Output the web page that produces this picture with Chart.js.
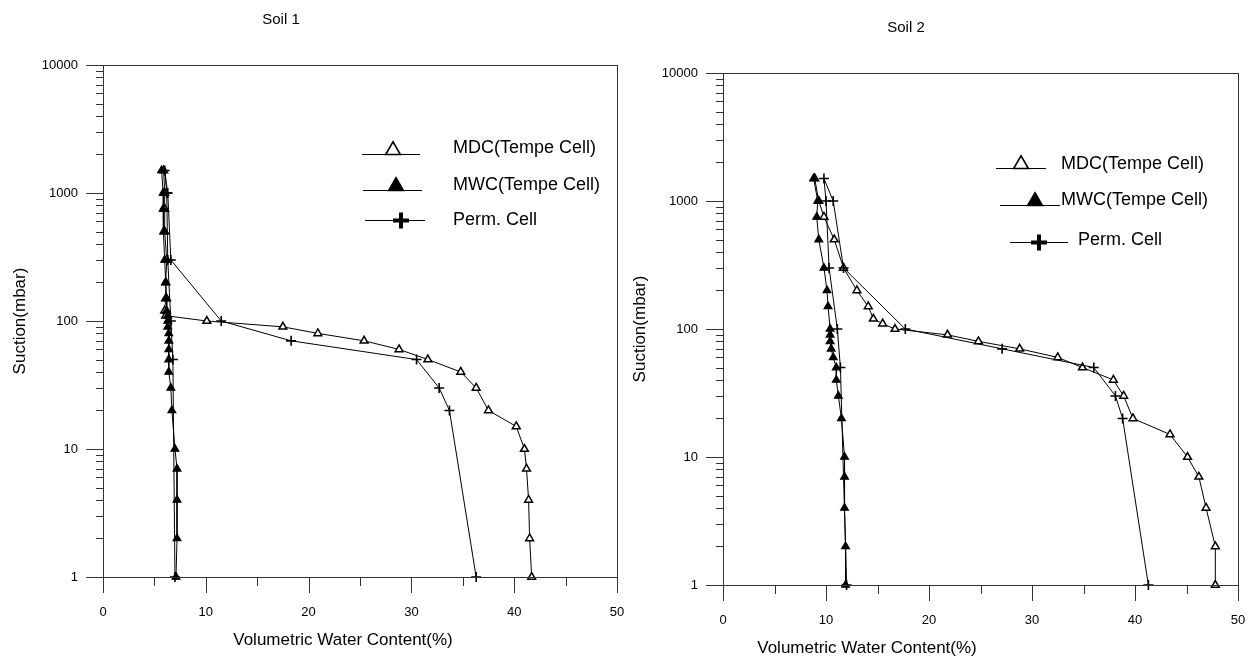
<!DOCTYPE html>
<html><head><meta charset="utf-8">
<script src="https://cdn.jsdelivr.net/npm/chart.js@4/dist/chart.umd.min.js"></script>
<style>
html,body{margin:0;padding:0;background:#fff;width:1253px;height:659px;overflow:hidden}
#c1{position:absolute;left:0;top:0}
#c2{position:absolute;left:626px;top:0}
</style></head><body>
<canvas id="c1" width="626" height="659"></canvas>
<canvas id="c2" width="627" height="659"></canvas>
<script>
// ---------- data ----------
const chartTitles = ['Soil 1', 'Soil 2'];
const seriesNames = ['MDC(Tempe Cell)', 'MWC(Tempe Cell)', 'Perm. Cell'];
const xAxisTitle = 'Volumetric Water Content(%)';
const yAxisTitle = 'Suction(mbar)';
const xTickValues = [0, 10, 20, 30, 40, 50];
const yTickValues = [1, 10, 100, 1000, 10000];

// Soil 1
const soil1MdcSuction = [1,2,4,7,10,15,20,30,40,50,60,70,80,90,100,110,120,150,200,300,500,750,1000,1500];
const soil1MdcWater   = [41.7,41.5,41.4,41.2,41.0,40.2,37.5,36.3,34.8,31.6,28.8,25.4,20.9,17.5,10.1,6.1,6.0,6.1,6.1,6.2,6.0,6.0,6.0,5.9];
const soil1MwcSuction = [1500,1000,750,500,300,200,150,120,110,100,90,80,70,60,50,40,30,20,10,7,4,2,1];
const soil1MwcWater   = [5.7,5.85,5.85,5.9,6.0,6.1,6.2,6.2,6.3,6.3,6.3,6.4,6.4,6.4,6.4,6.4,6.6,6.7,7.0,7.2,7.2,7.2,7.1];
const soil1PermSuction = [1,20,30,50,70,100,300,1000,1500,1000,300,100,50,1];
const soil1PermWater   = [36.3,33.7,32.7,30.5,18.3,11.5,6.6,6.3,6.0,6.2,6.3,6.6,6.8,7.0];

// Soil 2
const soil2MdcSuction = [1,2,4,7,10,15,20,30,40,50,60,70,80,90,100,110,120,150,200,300,500,750,1000,1500];
const soil2MdcWater   = [47.8,47.8,46.9,46.2,45.1,43.4,39.8,38.9,37.9,34.9,32.5,28.8,24.8,21.8,16.7,15.5,14.6,14.1,13.0,11.7,10.8,9.8,9.3,8.9];
const soil2MwcSuction = [1500,1000,750,500,300,200,150,100,90,80,70,60,50,40,30,20,10,7,4,2,1];
const soil2MwcWater   = [8.8,9.2,9.1,9.3,9.8,10.1,10.2,10.4,10.4,10.4,10.5,10.7,11.0,11.0,11.2,11.5,11.8,11.8,11.8,11.9,11.9];
const soil2PermSuction = [1,20,30,50,70,100,300,1000,1500,1000,300,100,50,1];
const soil2PermWater   = [41.3,38.8,38.1,36.0,27.1,17.7,11.7,10.7,9.8,10.0,10.3,11.1,11.4,12.0];

// ---------- helpers ----------
const FAM = '"Liberation Sans", Arial, sans-serif';
const pts = (xs, ys) => xs.map((x, i) => ({x: x, y: ys[i]}));
const isPow10 = v => Math.abs(Math.log10(v) - Math.round(Math.log10(v))) < 1e-9;

function tri(ctx, x, yBase, r, fill) {
  const cy = yBase - r / 2;
  ctx.beginPath();
  for (let k = 0; k < 3; k++) {
    const a = k * 2 * Math.PI / 3;
    const px = x + Math.sin(a) * r, py = cy - Math.cos(a) * r;
    if (k === 0) ctx.moveTo(px, py); else ctx.lineTo(px, py);
  }
  ctx.closePath();
  ctx.fillStyle = fill ? '#000' : '#fff';
  ctx.fill();
  ctx.lineWidth = 1.6; ctx.strokeStyle = '#000'; ctx.stroke();
}

const decor = {
  id: 'decor',
  afterDraw(chart, args, o) {
    const ctx = chart.ctx, xs = chart.scales.x, ys = chart.scales.y, a = chart.chartArea;
    ctx.save();
    ctx.strokeStyle = '#333'; ctx.lineWidth = 1;
    ctx.strokeRect(Math.round(a.left) + 0.5, Math.round(a.top) + 0.5, Math.round(a.right - a.left), Math.round(a.bottom - a.top));
    ctx.beginPath();
    for (let d = 1; d < 10000; d *= 10) {
      for (let m = 1; m < 10; m++) {
        const py = Math.round(ys.getPixelForValue(d * m)) + 0.5;
        ctx.moveTo(a.left - (m === 1 ? 17 : 7), py); ctx.lineTo(a.left, py);
      }
    }
    const pTop = Math.round(ys.getPixelForValue(10000)) + 0.5;
    ctx.moveTo(a.left - 17, pTop); ctx.lineTo(a.left, pTop);
    for (let v = 0; v <= 50; v += 5) {
      const px = Math.round(xs.getPixelForValue(v)) + 0.5;
      ctx.moveTo(px, a.bottom); ctx.lineTo(px, a.bottom + (v % 10 === 0 ? 16 : 9));
    }
    ctx.stroke();
    ctx.fillStyle = '#000'; ctx.textAlign = 'center'; ctx.textBaseline = 'middle';
    ctx.font = '15px ' + FAM;
    ctx.fillText(o.title, o.titleX, o.titleY);
    ctx.font = '17px ' + FAM;
    ctx.fillText(xAxisTitle, o.xtX, o.xtY);
    const L = o.legend;
    ctx.font = '18px ' + FAM; ctx.textAlign = 'left';
    L.forEach((r, i) => {
      ctx.beginPath(); ctx.strokeStyle = '#000'; ctx.lineWidth = 1;
      ctx.moveTo(r.x1, r.y + 0.5); ctx.lineTo(r.x2, r.y + 0.5); ctx.stroke();
      if (i === 0) tri(ctx, r.mx, r.y + 0.5, 8.5, false);
      else if (i === 1) tri(ctx, r.mx, r.y + 0.5, 8.5, true);
      else {
        ctx.fillStyle = '#000';
        ctx.fillRect(r.mx - 8, r.y - 1.5, 16, 4);
        ctx.fillRect(r.mx - 2, r.y - 7.5, 4, 16);
      }
      ctx.fillStyle = '#000';
      ctx.fillText(seriesNames[i], r.tx, r.ty);
    });
    ctx.restore();
  }
};

function makeChart(id, d, lay) {
  const ds = [
    {label: seriesNames[1], data: pts(d.mwcW, d.mwcS), pointStyle: 'triangle', pointRadius: 4.5,
     pointBackgroundColor: '#000', pointBorderColor: '#000', pointBorderWidth: 1.2},
    {label: seriesNames[2], data: pts(d.permW, d.permS), pointStyle: 'cross', pointRadius: 5,
     pointBackgroundColor: '#000', pointBorderColor: '#000', pointBorderWidth: 1.6},
    {label: seriesNames[0], data: pts(d.mdcW, d.mdcS), pointStyle: 'triangle', pointRadius: 4.5,
     pointBackgroundColor: '#fff', pointBorderColor: '#000', pointBorderWidth: 1.5}
  ].map(s => Object.assign(s, {showLine: true, borderColor: '#000', borderWidth: 1, tension: 0, clip: false, pointHoverRadius: 5}));
  return new Chart(document.getElementById(id), {
    type: 'scatter',
    data: {datasets: ds},
    options: {
      responsive: false, animation: false, devicePixelRatio: 1,
      layout: {padding: {left: 0, top: lay.top, right: lay.right, bottom: 0}},
      plugins: {legend: {display: false}, tooltip: {enabled: false}, title: {display: false}, decor: lay.decor},
      scales: {
        x: {type: 'linear', min: 0, max: 50,
            ticks: {stepSize: 10, autoSkip: false, color: '#000', font: {size: 13, family: FAM}, padding: 11,
                    callback: v => xTickValues.includes(v) ? String(v) : ''},
            grid: {display: true, drawOnChartArea: false, drawTicks: true, tickLength: 17, color: 'rgba(0,0,0,0)'},
            border: {display: false},
            afterFit: s => { s.height = lay.xh; s.paddingLeft = 0; s.paddingRight = 0; }},
        y: {type: 'logarithmic', min: 1, max: 10000,
            ticks: {autoSkip: false, color: '#000', font: {size: 13, family: FAM}, padding: 8,
                    callback: v => (isPow10(v) && yTickValues.includes(Math.round(v))) ? String(Math.round(v)) : ''},
            grid: {display: true, drawOnChartArea: false, drawTicks: true, tickLength: 17, color: 'rgba(0,0,0,0)'},
            border: {display: false},
            title: {display: true, text: yAxisTitle, color: '#000', font: {size: 17, family: FAM}, padding: {top: lay.ytPad, bottom: 0}},
            afterFit: s => { s.width = lay.yw; s.paddingTop = 0; s.paddingBottom = 0; }}
      }
    },
    plugins: [decor]
  });
}

makeChart('c1',
  {mdcW: soil1MdcWater, mdcS: soil1MdcSuction, mwcW: soil1MwcWater, mwcS: soil1MwcSuction, permW: soil1PermWater, permS: soil1PermSuction},
  {top: 65, right: 9, xh: 82, yw: 103, ytPad: 10,
   decor: {title: chartTitles[0], titleX: 281, titleY: 20, xtX: 343, xtY: 640,
     legend: [
       {x1: 362, x2: 420, y: 154, mx: 393, tx: 453, ty: 148},
       {x1: 363, x2: 422, y: 190, mx: 396, tx: 453, ty: 185},
       {x1: 365, x2: 425, y: 220, mx: 401, tx: 453, ty: 220}
     ]}});

makeChart('c2',
  {mdcW: soil2MdcWater, mdcS: soil2MdcSuction, mwcW: soil2MwcWater, mwcS: soil2MwcSuction, permW: soil2PermWater, permS: soil2PermSuction},
  {top: 73, right: 15, xh: 74, yw: 97, ytPad: 4,
   decor: {title: chartTitles[1], titleX: 280, titleY: 28, xtX: 241, xtY: 648,
     legend: [
       {x1: 370, x2: 420, y: 168, mx: 395, tx: 435, ty: 164},
       {x1: 374, x2: 434, y: 205, mx: 409, tx: 435, ty: 200},
       {x1: 384, x2: 442, y: 242, mx: 413, tx: 452, ty: 240}
     ]}});
</script>
</body></html>
